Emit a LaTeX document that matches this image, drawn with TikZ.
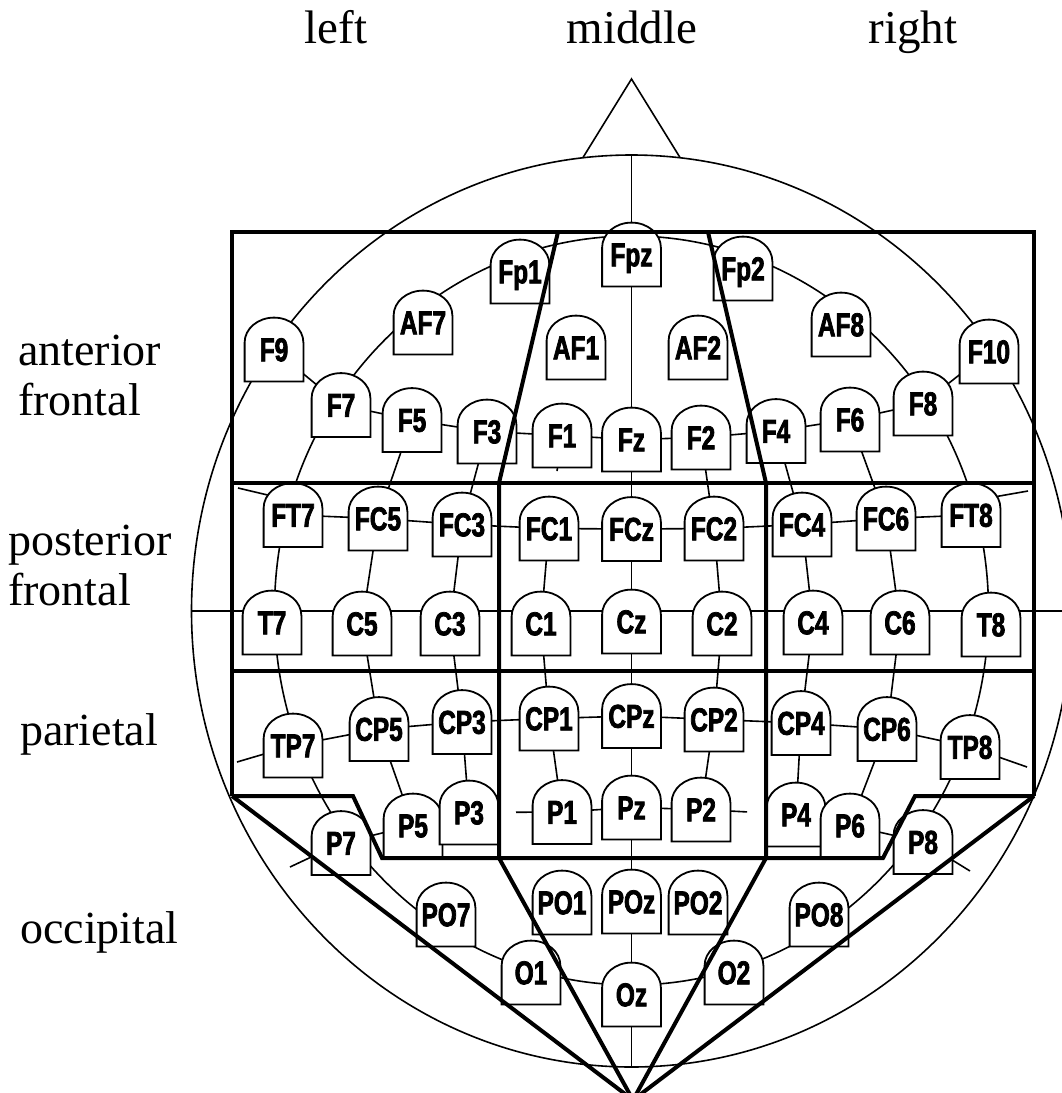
\documentclass[tikz,border=0pt]{standalone}
\usepackage{fontspec}
\setmainfont{Liberation Serif}
\newfontfamily\elecfont[FakeStretch=0.74, BoldFeatures={FakeBold=2.2}]{Liberation Sans}
\usetikzlibrary{backgrounds}

% Electrode marker: flat bottom, straight sides, elliptic cap on top
\makeatletter
\def\tombcap{25pt}
\pgfdeclareshape{tombstone}{
  \inheritsavedanchors[from=rectangle]
  \inheritanchorborder[from=rectangle]
  \inheritanchor[from=rectangle]{center}
  \inheritanchor[from=rectangle]{text}
  \inheritanchor[from=rectangle]{base}
  \inheritanchor[from=rectangle]{mid}
  \inheritanchor[from=rectangle]{north}
  \inheritanchor[from=rectangle]{south}
  \inheritanchor[from=rectangle]{east}
  \inheritanchor[from=rectangle]{west}
  \inheritanchor[from=rectangle]{north east}
  \inheritanchor[from=rectangle]{north west}
  \inheritanchor[from=rectangle]{south east}
  \inheritanchor[from=rectangle]{south west}
  \backgroundpath{%
    \southwest \pgf@xa=\pgf@x \pgf@ya=\pgf@y
    \northeast \pgf@xb=\pgf@x \pgf@yb=\pgf@y
    \pgf@xc=\pgf@xb \advance\pgf@xc by -\pgf@xa \pgf@xc=.5\pgf@xc
    \pgf@yc=\pgf@yb \advance\pgf@yc by -\tombcap
    \edef\tomb@xa{\the\pgf@xa}\edef\tomb@ya{\the\pgf@ya}%
    \edef\tomb@xb{\the\pgf@xb}\edef\tomb@yc{\the\pgf@yc}%
    \edef\tomb@rx{\the\pgf@xc}%
    \pgfpathmoveto{\pgfqpoint{\tomb@xa}{\tomb@ya}}%
    \pgfpathlineto{\pgfqpoint{\tomb@xb}{\tomb@ya}}%
    \pgfpathlineto{\pgfqpoint{\tomb@xb}{\tomb@yc}}%
    \pgfpatharc{0}{180}{\tomb@rx and \tombcap}%
    \pgfpathclose
  }
}
\makeatother

\tikzset{
  elec/.style={shape=tombstone, draw, fill=white, line width=1.8pt,
    minimum width=57pt, minimum height=62pt, inner sep=0pt,
    text height=23.5pt, text depth=0pt,
    font=\fontsize{33}{33}\selectfont\elecfont\bfseries},
  wire/.style={line width=1.6pt},
  zone/.style={line width=4pt, line join=miter},
  region/.style={font=\fontsize{46}{50}\selectfont, anchor=base west, inner sep=0pt},
  side/.style={font=\fontsize{47}{50}\selectfont, anchor=base, inner sep=0pt},
}

\begin{document}
\begin{tikzpicture}[x=1pt, y=-1pt]
\useasboundingbox (0,0) rectangle (1061,1093);

% ---- electrodes ----
\node[elec] (Fpz) at (631.5,254.5) {Fpz};
\node[elec] (Fp1) at (520,271.5) {Fp1};
\node[elec] (Fp2) at (743,268.5) {Fp2};
\node[elec] (AF7) at (423,322.5) {AF7};
\node[elec] (AF1) at (576,347.5) {AF1};
\node[elec] (AF2) at (698,347.5) {AF2};
\node[elec] (AF8) at (841,324.5) {AF8};
\node[elec] (F9)  at (274,349.5) {F9};
\node[elec] (F10) at (989,351.5) {F10};
\node[elec] (F7)  at (341,405) {F7};
\node[elec] (F5)  at (412,420) {F5};
\node[elec] (F3)  at (487,431.5) {F3};
\node[elec] (F1)  at (562,435.5) {F1};
\node[elec] (Fz)  at (631.5,439.5) {Fz};
\node[elec] (F2)  at (701,437.5) {F2};
\node[elec] (F4)  at (776,431) {F4};
\node[elec] (F6)  at (850,419.5) {F6};
\node[elec] (F8)  at (923,403.5) {F8};
\node[elec] (FT7) at (293,515) {FT7};
\node[elec] (FC5) at (378,518.5) {FC5};
\node[elec] (FC3) at (462,524.5) {FC3};
\node[elec] (FC1) at (549,528.5) {FC1};
\node[elec] (FCz) at (631.5,529) {FCz};
\node[elec] (FC2) at (714,528.5) {FC2};
\node[elec] (FC4) at (802,524.5) {FC4};
\node[elec] (FC6) at (886,518.5) {FC6};
\node[elec] (FT8) at (971,515) {FT8};
\node[elec] (T7)  at (272,622.5) {T7};
\node[elec] (C5)  at (362,623.5) {C5};
\node[elec] (C3)  at (450,623.5) {C3};
\node[elec] (C1)  at (541,623.5) {C1};
\node[elec] (Cz)  at (631.5,621.5) {Cz};
\node[elec] (C2)  at (722,623.5) {C2};
\node[elec] (C4)  at (813,622.5) {C4};
\node[elec] (C6)  at (900,622.5) {C6};
\node[elec] (T8)  at (991,624.5) {T8};
\node[elec] (TP7) at (293,745.5) {TP7};
\node[elec] (CP5) at (379,729) {CP5};
\node[elec] (CP3) at (462,722) {CP3};
\node[elec] (CP1) at (549,718.5) {CP1};
\node[elec] (CPz) at (631.5,716) {CPz};
\node[elec] (CP2) at (714,719.5) {CP2};
\node[elec] (CP4) at (801,723) {CP4};
\node[elec] (CP6) at (887,729) {CP6};
\node[elec] (TP8) at (970,747) {TP8};
\node[elec] (P7)  at (341,843) {P7};
\node[elec] (P5)  at (413,825.5) {P5};
\node[elec] (P3)  at (469,812.5) {P3};
\node[elec] (P1)  at (562,812) {P1};
\node[elec] (Pz)  at (631.5,807.5) {Pz};
\node[elec] (P2)  at (701,809.5) {P2};
\node[elec] (P4)  at (796,814.5) {P4};
\node[elec] (P6)  at (850,825.5) {P6};
\node[elec] (P8)  at (923,842) {P8};
\node[elec] (PO7) at (446,914.5) {PO7};
\node[elec] (PO1) at (562,902.5) {PO1};
\node[elec] (POz) at (631.5,901.5) {POz};
\node[elec] (PO2) at (698,902.5) {PO2};
\node[elec] (PO8) at (819,914.5) {PO8};
\node[elec] (O1)  at (531,972.5) {O1};
\node[elec] (Oz)  at (631.5,994.5) {Oz};
\node[elec] (O2)  at (734,972.5) {O2};

% ---- reference points of the head outline ----
\coordinate (headC) at (631.5,611);
\coordinate (ringC) at (631.5,610.5);
\coordinate (vtop) at (631.5,155);
\coordinate (vbot) at (631.5,1067);
\coordinate (hleft) at (191.5,611);
\coordinate (hright) at (1071.5,611);
\coordinate (nose) at (631.5,79);
\coordinate (noseL) at (583,157.5);
\coordinate (noseR) at (680,157.5);
\coordinate (ft7s) at (238,488);
\coordinate (ft8s) at (1028,491);
\coordinate (tp7s) at (237,762);
\coordinate (tp8s) at (1027,767);
\coordinate (p7s) at (290,867);
\coordinate (p8s) at (970,871);

% ---- head outline, rings and wiring, behind the electrodes ----
\begin{scope}[on background layer]
  \draw[wire] (headC) ellipse [x radius=440pt, y radius=456pt];
  \draw[wire] (ringC) ellipse [x radius=357pt, y radius=374.5pt];
  \draw[wire] (noseL) -- (nose) -- (noseR);
  \draw[wire] (vtop) -- (vbot);
  \draw[wire] (hleft) -- (hright);
  \foreach \a/\b in {F9/F7, F7/F5, F5/F3, F3/F1, F1/Fz, Fz/F2, F2/F4, F4/F6, F6/F8, F8/F10,
      FT7/FC5, FC5/FC3, FC3/FC1, FC1/FCz, FCz/FC2, FC2/FC4, FC4/FC6, FC6/FT8,
      TP7/CP5, CP5/CP3, CP3/CP1, CP1/CPz, CPz/CP2, CP2/CP4, CP4/CP6, CP6/TP8,
      P7/P5, P1/Pz, Pz/P2, P6/P8,
      F5/FC5, FC5/C5, C5/CP5, CP5/P5,
      F3/FC3, FC3/C3, C3/CP3, CP3/P3,
      FC1/C1, C1/CP1, CP1/P1,
      F2/FC2, FC2/C2, C2/CP2, CP2/P2,
      F4/FC4, FC4/C4, C4/CP4, CP4/P4,
      F6/FC6, FC6/C6, C6/CP6, CP6/P6}
    \draw[wire] (\a.center) -- (\b.center);
  % partial links
  \draw[wire, shorten >=58pt] (F1.center) -- (FC1.center);
  \draw[wire, shorten >=47pt] (P1.center) -- (P3.center);
  \draw[wire, shorten >=49pt] (P2.center) -- (P4.center);
  % short leads toward the outer ring
  \draw[wire] ([yshift=14pt]FT7.center) -- (ft7s);
  \draw[wire] ([yshift=14pt]FT8.center) -- (ft8s);
  \draw[wire] (TP7.center) -- (tp7s);
  \draw[wire] (TP8.center) -- (tp8s);
  \draw[wire] (P7.center) -- (p7s);
  \draw[wire] (P8.center) -- (p8s);
\end{scope}

% ---- lobe regions ----
\coordinate (apex) at (633,1100);
\draw[zone] (232,796) -- (232,232) -- (1034,232) -- (1034,796);
\draw[zone] (232,483) -- (1034,483);
\draw[zone] (232,671) -- (1034,671);
\draw[zone] (558,232) -- (499,483) -- (499,858);
\draw[zone] (708,232) -- (766,483) -- (766,858);
\draw[zone] (232,796) -- (353,796) -- (382,858) -- (883,858) -- (915,796) -- (1034,796);
\draw[zone] (232,796) -- (apex) -- (1034,796);
\draw[zone] (499,858) -- (apex) -- (766,858);

% ---- captions ----
\node[side] (tleft) at (336,43) {left};
\node[side] (tmid) at (632,43) {middle};
\node[side] (tright) at (913,43) {right};
\node[region] (lab1) at (18,365) {anterior};
\node[region] (lab2) at (18,415) {frontal};
\node[region] (lab3) at (8,555) {posterior};
\node[region] (lab4) at (8,605) {frontal};
\node[region] (lab5) at (20,745) {parietal};
\node[region] (lab6) at (20,943) {occipital};
\end{tikzpicture}
\end{document}
